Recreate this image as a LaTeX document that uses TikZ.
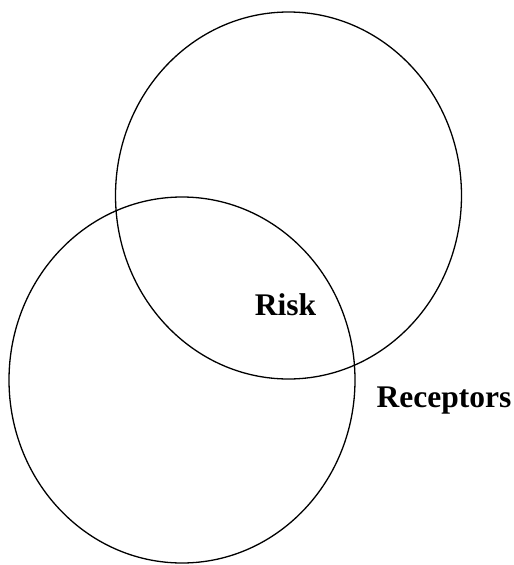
\documentclass[tikz,border=0pt]{standalone}
\usepackage{fontspec}
\setmainfont{Liberation Serif}
\usepackage{tikz}

\begin{document}
\begin{tikzpicture}[x=1pt, y=-1pt, line width=1.3pt,
		setlabel/.style={font=\fontsize{31.5}{34}\selectfont\bfseries, inner sep=0pt}]
			%%%%% START %%%%%
			
			\useasboundingbox (0, 0) rectangle (514, 565);
			
			\draw (288.5, 195.5) ellipse (173 and 183.5);
			\draw (182, 380) ellipse (173 and 183);
			
			\node[setlabel, anchor=base] (risk) at (285.5, 315) {Risk};
			\node[setlabel, anchor=base west] (receptors) at (376, 407) {Receptors};
			
			%%%%% END %%%%%
		\end{tikzpicture}
\end{document}
